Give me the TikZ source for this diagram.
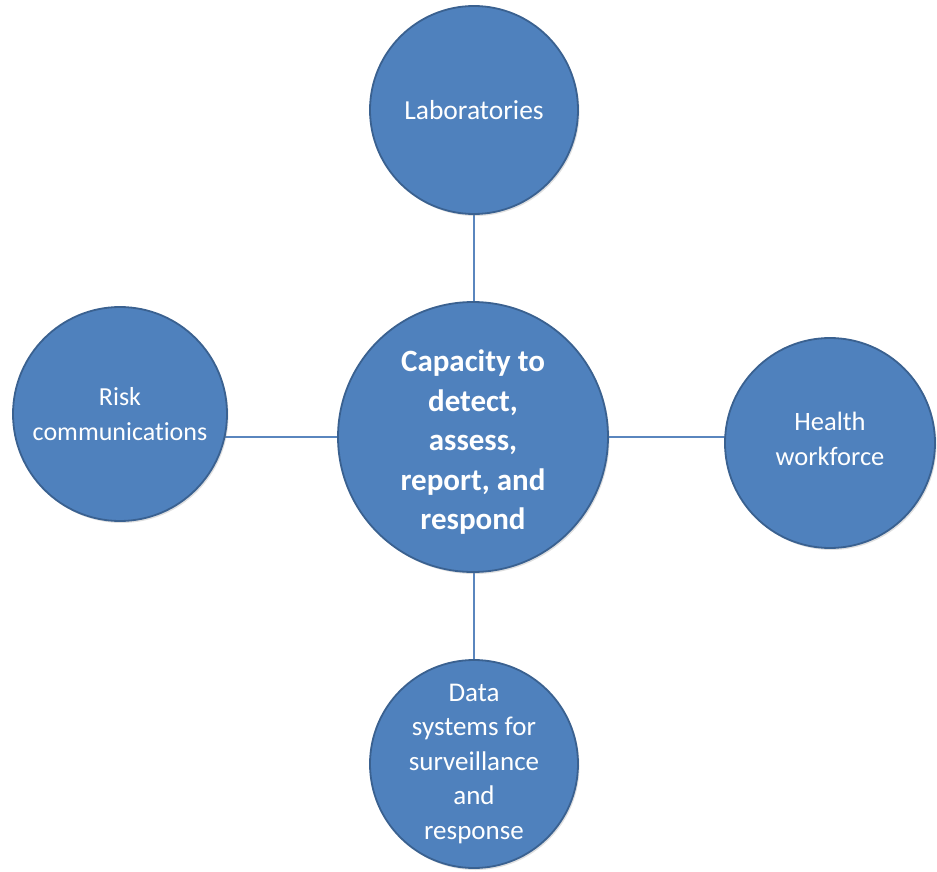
\documentclass[tikz,border=0pt]{standalone}
\usepackage{fontspec}
\setmainfont{Carlito}[Ligatures=NoCommon]
\usepackage{xcolor}
\usetikzlibrary{backgrounds,shadows}
\definecolor{hubfill}{HTML}{4F81BD}
\definecolor{hubedge}{HTML}{3A6190}
\definecolor{spoke}{HTML}{5A86BE}

\begin{document}
\begin{tikzpicture}[
    x=1pt, y=-1pt,
    bubble/.style={circle, fill=hubfill, draw=hubedge, line width=1.8pt,
        minimum size=#1, inner sep=-60pt, align=center, text=white,
        font=\fontsize{26.5}{35}\selectfont,
        drop shadow={opacity=0.25, shadow xshift=1.5pt, shadow yshift=-2pt}},
    bubble/.default=208pt,
    spoke/.style={draw=spoke, line width=1.1pt}
]

    \useasboundingbox (0,0) rectangle (937,872);

    % Nodes
    \node[bubble=270pt, font=\bfseries\fontsize{31}{39.5}\selectfont] (hub) at (473, 437)
        {\rule{0pt}{32pt}Capacity to\\detect,\\assess,\\report, and\\respond};
    \node[bubble, font=\fontsize{27.5}{35}\selectfont] (lab) at (474, 110) {Laboratories};
    \node[bubble=214pt, font=\fontsize{26}{35}\selectfont] (risk) at (120, 414) {Risk\\communications};
    \node[bubble=210pt] (health) at (830, 443) {Health\\workforce\rule[-9pt]{0pt}{0pt}};
    \node[bubble, font=\fontsize{27}{34.5}\selectfont] (data) at (474, 764)
        {Data\\systems for\\surveillance\\and\\response};

    % Connectors
    \begin{pgfonlayer}{background}
        \draw[spoke] (hub.center) -- (hub.center -| lab.center) -- (lab.center);
        \draw[spoke] (hub.center) -- (hub.center -| risk.center);
        \draw[spoke] (hub.center) -- (hub.center -| health.center);
        \draw[spoke] (hub.center) -- (hub.center -| data.center) -- (data.center);
    \end{pgfonlayer}

\end{tikzpicture}
\end{document}
